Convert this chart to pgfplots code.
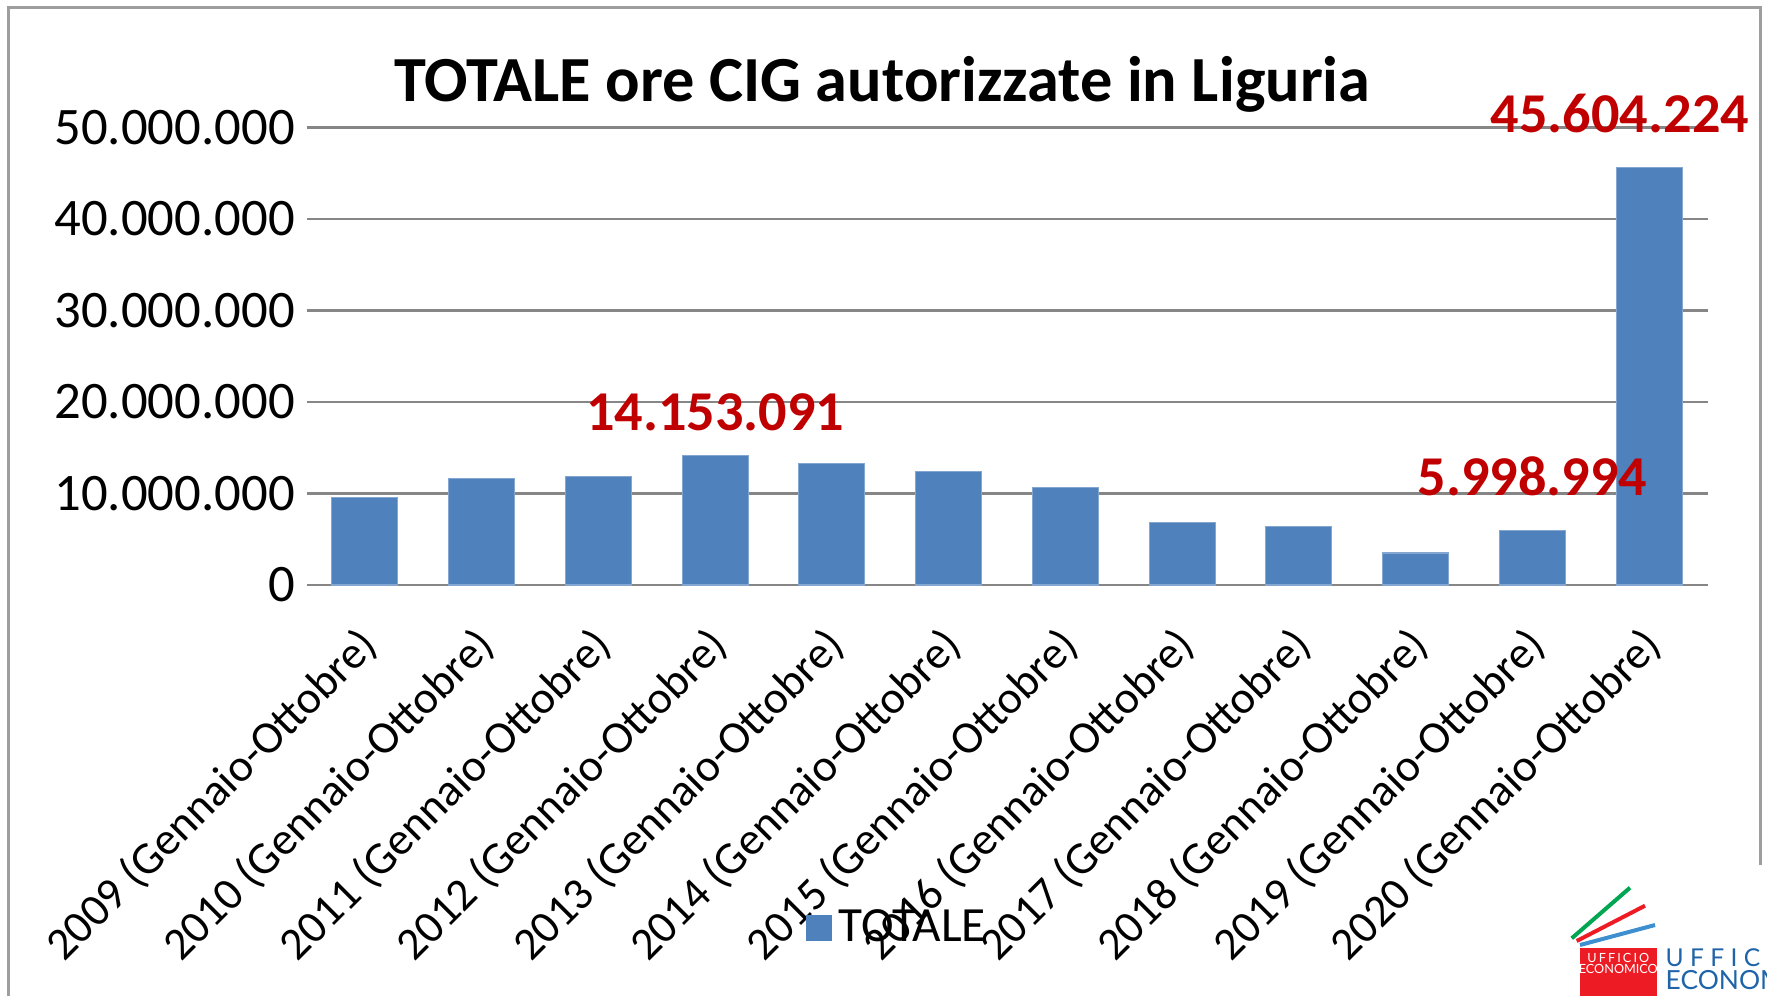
\documentclass[border=0pt]{standalone}
\usepackage{pgfplots}
\pgfplotsset{compat=1.18}
\usepackage{fontspec}
\setmainfont{Carlito}
\newfontfamily\logofont{Lato}
\definecolor{barblue}{HTML}{4F81BD}
\definecolor{gridgray}{HTML}{868686}
\definecolor{labred}{HTML}{C00000}
\definecolor{logored}{HTML}{ED1C24}
\definecolor{logogreen}{HTML}{00A651}
\definecolor{logoblue}{HTML}{3D8FD0}
\definecolor{logotext}{HTML}{1F64A8}
\begin{document}
\begin{tikzpicture}[x=1cm,y=1cm]
\path[use as bounding box] (0,0) rectangle (17.67,9.95);
\draw[gridgray!80, line width=0.03cm] (0.09,-0.1) -- (0.09,9.87) -- (17.60,9.87) -- (17.60,1.30);
\node[font=\bfseries\fontsize{18.3}{22}\selectfont] at (8.825,9.105) {TOTALE ore CIG autorizzate in Liguria};
\begin{axis}[
  at={(3.065cm,4.10cm)}, anchor=south west,
  scale only axis, width=14.01cm, height=4.576cm,
  xmin=-0.5, xmax=11.5, ymin=0, ymax=50000000,
  ybar, bar width=0.66cm,
  axis line style={draw=none}, major tick length=0pt,
  ymajorgrids, grid style={gridgray, line width=0.8pt},
  scaled y ticks=false,
  ytick={0,10000000,20000000,30000000,40000000,50000000},
  yticklabels={0,10.000.000,20.000.000,30.000.000,40.000.000,50.000.000},
  yticklabel style={font=\fontsize{15}{18}\selectfont, inner sep=0pt, xshift=-0.11cm},
  xtick={0,...,11},
  xticklabels={2009 (Gennaio-Ottobre),2010 (Gennaio-Ottobre),2011 (Gennaio-Ottobre),2012 (Gennaio-Ottobre),2013 (Gennaio-Ottobre),2014 (Gennaio-Ottobre),2015 (Gennaio-Ottobre),2016 (Gennaio-Ottobre),2017 (Gennaio-Ottobre),2018 (Gennaio-Ottobre),2019 (Gennaio-Ottobre),2020 (Gennaio-Ottobre)},
  xticklabel style={xshift=-0.09cm, yshift=-0.38cm, font=\fontsize{13}{16}\selectfont, rotate=45, anchor=north east, inner sep=0pt},
  clip=false,
  legend style={at={(0.3558,-0.75)}, anchor=west, draw=none, fill=none, inner sep=0pt, font=\fontsize{14}{17}\selectfont},
  legend image code/.code={\fill[barblue] (0cm,-0.125cm) rectangle (0.25cm,0.125cm);},
]
\addplot[fill=barblue, draw=barblue!70!white, line width=0.3pt] coordinates {
 (0,9550000) (1,11600000) (2,11900000) (3,14153091) (4,13300000) (5,12450000)
 (6,10700000) (7,6850000) (8,6350000) (9,3500000) (10,5998994) (11,45604224)};
\addlegendentry{TOTALE}
\node[font=\bfseries\fontsize{16}{19}\selectfont, text=labred] at (axis cs:3,18850000) {14.153.091};
\node[font=\bfseries\fontsize{16}{19}\selectfont, text=labred] at (axis cs:10,11830000) {5.998.994};
\node[font=\bfseries\fontsize{16}{19}\selectfont, text=labred] at (axis cs:10.75,51490000) {45.604.224};
\end{axis}
% logo
\draw[logogreen, line width=0.04cm] (15.717,0.567) -- (16.30,1.073);
\draw[logored, line width=0.04cm] (15.767,0.54) -- (16.45,0.893);
\draw[logoblue, line width=0.04cm] (15.80,0.50) -- (16.55,0.70);
\fill[logored] (15.80,-0.1) rectangle (16.567,0.467);
\node[text=white, font=\logofont\fontsize{3.6}{4}\selectfont, inner sep=0pt] at (16.183,0.37) {U\,F\,F\,I\,C\,I\,O};
\node[text=white, font=\logofont\fontsize{3.6}{4}\selectfont, inner sep=0pt] at (16.183,0.26) {ECONOMICO};
\node[text=logotext, font=\logofont\fontsize{7}{8}\selectfont, inner sep=0pt, anchor=west] at (16.65,0.37) {U\ F\ F\ I\ C\ I};
\node[text=logotext, font=\logofont\fontsize{7.5}{8}\selectfont, inner sep=0pt, anchor=west] at (16.65,0.15) {ECONOMIC};
\end{tikzpicture}
\end{document}
